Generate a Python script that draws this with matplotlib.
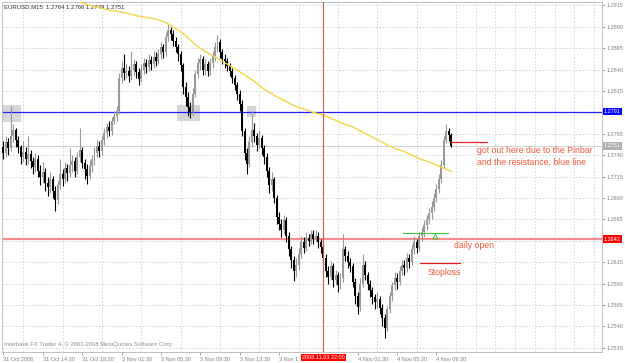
import matplotlib
matplotlib.use("Agg")
import matplotlib.pyplot as plt
from matplotlib.patches import Rectangle

plt.rcParams['font.family'] = ['Liberation Sans', 'DejaVu Sans']

# EURUSD M15, prices kept in pips above 1.2500
base = 1.25
first_open = 250
closes = [
    242, 255, 248, 262, 270, 258, 249, 238, 244, 236,
    241, 233, 226, 235, 222, 214, 220, 208, 203, 212,
    198, 188, 205, 218, 212, 225, 219, 228, 233, 222,
    238, 246, 231, 224, 216, 227, 235, 242, 251, 245,
    258, 266, 273, 268, 280, 286, 292, 330, 342, 336,
    338, 332, 340, 346, 337, 329, 340, 348, 343, 351,
    346, 355, 350, 358, 366, 360, 378, 386, 382, 374,
    366, 358, 345, 320, 308, 296, 290, 312, 335, 348,
    352, 340, 346, 338, 348, 356, 366, 372, 360, 352,
    350, 344, 338, 330, 322, 312, 300, 268, 242, 230,
    255, 270, 262, 252, 260, 248, 238, 222, 205, 212,
    190, 168, 160, 152, 164, 145, 130, 118, 105, 112,
    125, 138, 132, 143, 140, 148, 142, 146, 138, 133,
    120, 105, 98, 110, 94, 100, 88, 96, 130, 122,
    115, 110, 92, 75, 63, 90, 112, 100, 90, 82,
    74, 68, 72, 62, 50, 38, 60, 75, 88, 96,
    92, 105, 112, 108, 120, 115, 130, 138, 132, 145,
    150, 158, 165, 172, 180, 190, 200, 212, 228, 258,
    268, 264, 251,
]
highs = [
    256, 262, 260, 298, 276, 272, 262, 252, 256, 250,
    262, 246, 238, 242, 240, 228, 232, 225, 214, 220,
    216, 204, 210, 236, 224, 232, 230, 248, 240, 238,
    244, 272, 250, 236, 230, 234, 240, 250, 258, 256,
    262, 272, 278, 280, 285, 292, 298, 336, 350, 358,
    346, 344, 362, 352, 350, 342, 346, 354, 352, 358,
    356, 362, 360, 364, 372, 370, 384, 393, 390, 386,
    378, 370, 362, 348, 326, 314, 302, 318, 340, 354,
    358, 356, 352, 350, 354, 362, 372, 380, 376, 364,
    358, 354, 348, 342, 334, 326, 316, 304, 272, 248,
    262, 292, 278, 266, 270, 264, 252, 242, 226, 220,
    215, 194, 174, 166, 170, 168, 150, 134, 122, 120,
    132, 146, 144, 150, 148, 153, 152, 152, 150, 142,
    138, 124, 110, 116, 114, 106, 104, 102, 148, 134,
    128, 120, 114, 96, 80, 96, 125, 116, 104, 94,
    86, 78, 80, 76, 66, 54, 64, 80, 92, 104,
    102, 110, 118, 118, 126, 124, 136, 145, 142, 150,
    156, 164, 170, 178, 186, 196, 206, 218, 234, 262,
    277, 272, 266,
]
lows = [
    236, 238, 240, 245, 255, 250, 242, 230, 232, 228,
    230, 225, 218, 220, 215, 205, 208, 198, 192, 196,
    190, 175, 183, 200, 204, 208, 210, 214, 220, 215,
    218, 232, 225, 212, 206, 212, 220, 228, 238, 238,
    240, 252, 260, 262, 264, 276, 280, 288, 324, 328,
    330, 325, 328, 334, 330, 322, 325, 335, 336, 338,
    340, 342, 344, 346, 352, 354, 356, 374, 375, 368,
    360, 350, 338, 312, 298, 286, 283, 286, 308, 330,
    340, 334, 334, 332, 334, 342, 350, 360, 354, 346,
    342, 338, 332, 324, 316, 304, 292, 262, 234, 218,
    226, 250, 255, 245, 248, 240, 230, 214, 196, 198,
    184, 160, 152, 144, 148, 138, 122, 108, 93, 98,
    106, 120, 126, 128, 134, 136, 136, 138, 132, 126,
    112, 98, 90, 94, 86, 88, 80, 84, 92, 116,
    108, 104, 86, 66, 54, 58, 86, 94, 82, 74,
    66, 60, 62, 54, 40, 26, 34, 55, 70, 82,
    84, 88, 100, 100, 104, 108, 112, 125, 126, 128,
    140, 144, 152, 160, 166, 175, 185, 196, 208, 225,
    254, 256, 249,
]

# moving average (yellow), read every 4 bars
ma_bars = list(range(30, 183, 4))
ma_vals = [420, 416, 413, 410, 408, 406, 403, 401, 399, 395,
           388, 380, 369, 361, 355, 348, 341, 334, 326, 317,
           310, 304, 298, 294, 290, 287, 282, 277, 273, 267,
           261, 255, 249, 245, 240, 235, 231, 226, 221]

time_labels = ["31 Oct 2008", "31 Oct 14:30", "31 Oct 18:30", "3 Nov 01:30",
               "3 Nov 05:30", "3 Nov 09:30", "3 Nov 13:30", "3 Nov 1",
               "", "4 Nov 01:30", "4 Nov 05:30", "4 Nov 09:30"]
price_ticks = [1.2515, 1.2540, 1.2565, 1.2590, 1.2615, 1.2640, 1.2665, 1.2690,
               1.2715, 1.2740, 1.2765, 1.2790, 1.2815, 1.2840, 1.2865, 1.2890, 1.2915]

resistance = 1.2791
daily_open = 1.2642
bid = 1.2751
cross_bar = 130

P = lambda v: base + v / 10000.0

fig = plt.figure(figsize=(6.25, 3.63), dpi=100)
ax = fig.add_axes([2 / 625, 11 / 363, 600 / 625, 350 / 363])
ax.set_xlim(-0.6, 243.3)
ax.set_ylim(1.2510, 1.2919)

# grey highlight boxes
for x0, x1, y0, y1 in [(-0.5, 7, 1.2779, 1.2799), (70.5, 80, 1.2780, 1.2799), (98.8, 102.8, 1.2785, 1.2798)]:
    ax.add_patch(Rectangle((x0, y0), x1 - x0, y1 - y0, fc='#d6d6d6', ec='none', zorder=1))

# candles
opens = [first_open] + closes[:-1]
for i in range(len(closes)):
    o, c, h, l = P(opens[i]), P(closes[i]), P(highs[i]), P(lows[i])
    col = '#999999' if c >= o else '#000000'
    ax.vlines(i, l, h, color=col, lw=0.8, zorder=3)
    hgt = max(abs(c - o), 0.00006)
    ax.bar(i, hgt, bottom=min(o, c), width=0.8, color=col, lw=0, zorder=3)

ax.plot(ma_bars, [P(v) for v in ma_vals], color='#f2d54a', lw=1, zorder=4)

ax.axhline(resistance, color='#2020ff', lw=0.9, zorder=2)
ax.axhline(daily_open, color='#ff8c8c', lw=1.6, zorder=2)
ax.axhline(bid, color='#d4d4d4', lw=0.8, zorder=2)
ax.axvline(cross_bar, color='#d85050', lw=0.8, zorder=5)

# annotations
red_txt = '#f05a3c'
ax.plot([182, 196.7], [1.2755, 1.2755], color='#e02020', lw=0.9, zorder=5)
ax.text(192.3, 1.2745, "got out here due to the Pinbar", color=red_txt, fontsize=6.3, va='center', ha='left')
ax.text(192.3, 1.2732, "and the resistance, blue line", color=red_txt, fontsize=6.3, va='center', ha='left')
ax.plot([162.6, 180.5], [1.2649, 1.2649], color='#40c040', lw=0.8, zorder=5)
ax.plot([175.6], [1.2645], marker='^', ms=3.5, mfc='none', mec='#40c040', mew=0.7, zorder=6)
ax.text(183.2, 1.2635, "daily open", color=red_txt, fontsize=6.3, va='center', ha='left')
ax.plot([169.5, 185.4], [1.2614, 1.2614], color='#e02020', lw=0.9, zorder=5)
ax.text(172.3, 1.2603, "Stoploss", color=red_txt, fontsize=6.3, va='center', ha='left')

ax.text(0.4, 1.2913, "EURUSD,M15  1.2764 1.2766 1.2749 1.2751", fontsize=4.3, color='#303030', va='center', ha='left')
ax.text(0.4, 1.2519, "Interbank FX Trader 4, \u00a9 2001-2008 MetaQuotes Software Corp.",
        fontsize=4.2, color='#909090', va='center', ha='left')

# grid + axes
ax.set_yticks(price_ticks)
ax.set_yticklabels(['' if t in (1.2640, 1.2790) else '%.4f' % t for t in price_ticks])
ax.yaxis.tick_right()
ax.tick_params(axis='y', labelsize=4, colors='#808080', length=2, pad=1.5, width=0.5)
ax.grid(axis='y', color='#d0d0d0', ls=(0, (2, 2)), lw=0.6)

ax.set_xticks([16 * k for k in range(len(time_labels))])
ax.set_xticklabels(time_labels)
ax.set_xticks(range(0, 244, 8), minor=True)
ax.tick_params(axis='x', which='major', labelsize=4, colors='#808080', length=2, pad=1.5, width=0.5)
ax.tick_params(axis='x', which='minor', length=0)
for lbl in ax.get_xticklabels():
    lbl.set_ha('left')
ax.grid(axis='x', which='minor', color='#d0d0d0', ls=(0, (2, 2)), lw=0.6)
ax.set_axisbelow(True)
for s in ax.spines.values():
    s.set_color('#c0c0c0')
    s.set_linewidth(0.7)

# price boxes on the right axis
for val, fc in [(resistance, '#0000ff'), (daily_open, '#ff0000'), (bid, '#b0b0b0')]:
    ax.annotate('%.4f' % val, xy=(1, val), xycoords=('axes fraction', 'data'), xytext=(1.5, 0),
                textcoords='offset points', ha='left', va='center', fontsize=4, color='white',
                bbox=dict(boxstyle='square,pad=0.25', fc=fc, ec='none'), annotation_clip=False)

ax.annotate("2008.11.03 22:00", xy=(cross_bar, 0), xycoords=('data', 'axes fraction'), xytext=(0, -2.2),
            textcoords='offset points', ha='center', va='top', fontsize=4, color='white',
            bbox=dict(boxstyle='square,pad=0.25', fc='#ff0000', ec='none'), annotation_clip=False)

fig.savefig('out.png', dpi=100, facecolor='white')
